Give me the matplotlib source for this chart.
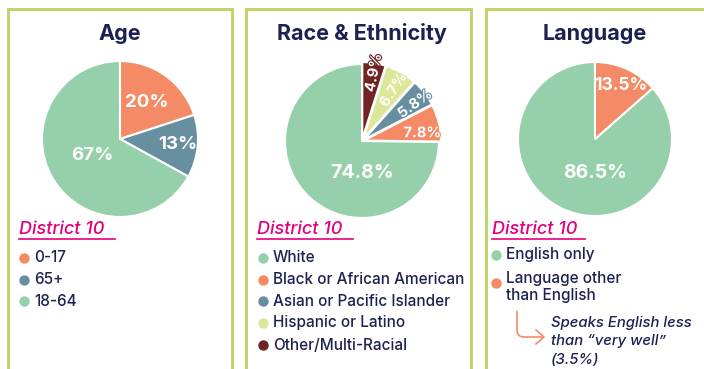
import numpy as np
import matplotlib
matplotlib.use("Agg")
import matplotlib.pyplot as plt
import matplotlib.patheffects as pe
from matplotlib.path import Path
from matplotlib.patches import PathPatch

# --- data --- #

age_labels = ["0-17", "65+", "18-64"]
age_values = [20, 13, 67]

race_labels = ["White", "Black or African American", "Asian or Pacific Islander",
               "Hispanic or Latino", "Other/Multi-Racial"]
race_values = [74.8, 7.8, 5.8, 6.7, 4.9]

lang_labels = ["English only", "Language other\nthan English"]
lang_values = [86.5, 13.5]
limited_english = 3.5

# --- style --- #

GREEN = "#95d0aa"
ORANGE = "#f48a66"
BLUE = "#688fa0"
LIME = "#dde79a"
MAROON = "#722424"
NAVY = "#1b2150"
PINK = "#e4007c"
BORDER = "#b9d45e"

age_colors = [ORANGE, BLUE, GREEN]
race_colors = [GREEN, ORANGE, BLUE, LIME, MAROON]
lang_colors = [GREEN, ORANGE]

FONT = "Inter"
W, H = 704, 369

fig = plt.figure(figsize=(W / 100, H / 100), dpi=100)
fig.patch.set_facecolor("white")

# overlay in pixel coordinates for frames, titles and legends
bg = fig.add_axes([0, 0, 1, 1])
bg.set_xlim(0, W)
bg.set_ylim(H, 0)
bg.axis("off")


def pie_axes(cx, cy, r):
    ax = fig.add_axes([(cx - r) / W, (H - cy - r) / H, 2 * r / W, 2 * r / H])
    ax.axis("off")
    return ax


def fix_limits(ax):
    # pie() resets the limits, so pin them back to the unit circle
    ax.set_xlim(-1, 1)
    ax.set_ylim(-1, 1)
    ax.set_aspect("equal")


def wedge_label(ax, text, angle, dist, size, rot=0, outline=None):
    a = np.deg2rad(angle)
    t = ax.text(dist * np.cos(a), dist * np.sin(a), text, ha="center", va="center",
                color="white", fontsize=size, fontweight="bold", family=FONT,
                rotation=rot, rotation_mode="anchor")
    if outline is not None:
        t.set_path_effects([pe.withStroke(linewidth=1.6, foreground=outline)])


def mid_angles(wedges):
    return [(w.theta1 + w.theta2) / 2 for w in wedges]


def panel(x0, x1, title, title_x):
    bg.plot([x0, x0, x1, x1], [H + 5, 9, 9, H + 5], color=BORDER, lw=2,
            solid_joinstyle="miter")
    bg.text(title_x, 34, title, ha="center", va="center", color=NAVY,
            fontsize=15.5, fontweight="bold", family=FONT)


def district(x, x_end):
    bg.text(x, 230, "District 10", ha="left", va="center", color=PINK,
            fontsize=13, style="italic", fontweight="medium", family=FONT)
    bg.plot([x, x_end], [238.5, 238.5], color=PINK, lw=1.2)


def legend(x, ys, labels, colors, dot_ys=None):
    dot_ys = ys if dot_ys is None else dot_ys
    for y, dy, lab, c in zip(ys, dot_ys, labels, colors):
        bg.plot(x, dy, "o", ms=7.5, color=c, mec="none")
        bg.text(x + 10, y, lab, ha="left", va="center", color=NAVY,
                fontsize=11, fontweight="medium", family=FONT,
                linespacing=1.1)


wedge_props = dict(edgecolor="white", linewidth=1.5)

# -----------------------------
# Age
# -----------------------------
panel(8, 232, "Age", 120)
ax = pie_axes(120, 139, 78)
wedges, _ = ax.pie(age_values, colors=age_colors, startangle=90,
                   counterclock=False, wedgeprops=wedge_props)
fix_limits(ax)
for w, v, ang, d in zip(wedges, age_values, mid_angles(wedges), [0.58, 0.74, 0.42]):
    wedge_label(ax, f"{v}%", ang, d, 13.5)
district(19, 115)
legend(24, [258, 279.5, 301], age_labels, age_colors)

# -----------------------------
# Race & Ethnicity
# -----------------------------
panel(246, 471, "Race & Ethnicity", 362)
ax = pie_axes(362, 141, 77)
wedges, _ = ax.pie(race_values, colors=race_colors, startangle=90,
                   explode=[0, 0.025, 0.025, 0.025, 0.025], wedgeprops=wedge_props)
fix_limits(ax)
angles = mid_angles(wedges)
wedge_label(ax, f"{race_values[0]}%", -90, 0.42, 14)
race_rot = [0, 36, 57, 79]
race_dist = [0.79, 0.84, 0.78, 0.9]
race_shift = [-6, -3, -2, -1]
for v, ang, d, rot, s, c in zip(race_values[1:], angles[1:], race_dist, race_rot,
                                race_shift, race_colors[1:]):
    wedge_label(ax, f"{v}%", ang + s, d, 10.5, rot, outline=c)
district(257, 353)
legend(263, [258, 279.5, 301, 323, 345], race_labels, race_colors)

# -----------------------------
# Language
# -----------------------------
panel(486, W + 5, "Language", 595)
ax = pie_axes(595, 139, 77)
wedges, _ = ax.pie(lang_values, colors=lang_colors, startangle=90,
                   wedgeprops=wedge_props)
fix_limits(ax)
angles = mid_angles(wedges)
wedge_label(ax, f"{lang_values[0]}%", -90, 0.44, 14)
wedge_label(ax, f"{lang_values[1]}%", angles[1] - 2, 0.77, 12.5)
district(492, 585)
legend(496, [255, 287], lang_labels, lang_colors, dot_ys=[255, 283])

# arrow into the limited-English note
verts = [(517, 311), (517, 330), (517, 337), (524, 337), (544, 337)]
codes = [Path.MOVETO, Path.LINETO, Path.CURVE3, Path.CURVE3, Path.LINETO]
bg.add_patch(PathPatch(Path(verts, codes), fill=False, edgecolor=ORANGE, lw=1.2))
bg.plot([536, 544, 536], [330, 337, 344], color=ORANGE, lw=1.2)
note = ["Speaks English less", "than \u201cvery well\u201d", f"({limited_english}%)"]
for y, line in zip([323, 341, 360], note):
    bg.text(551, y, line, ha="left", va="center", color=NAVY,
            fontsize=10.7, style="italic", fontweight="medium", family=FONT)

fig.savefig("out.png", dpi=100)
